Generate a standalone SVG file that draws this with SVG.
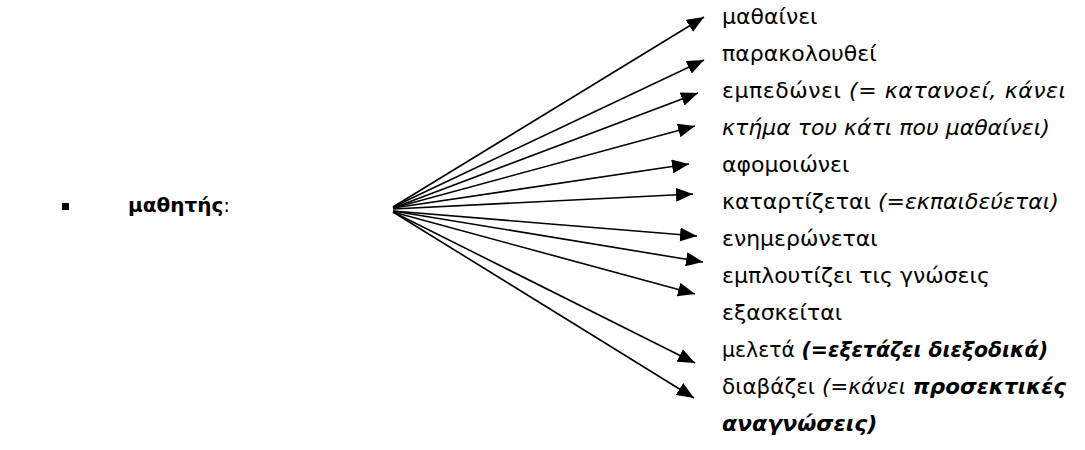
<svg xmlns="http://www.w3.org/2000/svg" width="1085" height="450" viewBox="0 0 1085 450">
<style>
text{font-family:"DejaVu Sans","Noto Sans",sans-serif;font-size:22px;fill:#000}
.lbl{font-size:20px}
.i{font-style:italic}
.b{font-weight:bold}
.con line{stroke:#000;stroke-width:1.6;fill:none}
</style>
<defs>
<marker id="ah" markerUnits="userSpaceOnUse" markerWidth="18" markerHeight="14" refX="17" refY="7" orient="auto">
<path d="M0,0 L17,7 L0,14 z" fill="#000"/>
</marker>
</defs>
<rect width="1085" height="450" fill="#fff"/>
<g id="source">
<rect x="62" y="203" width="7" height="7" fill="#000"/>
<text class="lbl" x="128" y="212"><tspan class="b">μαθητής</tspan>:</text>
</g>
<g id="connectors" class="con">
<line x1="393" y1="207" x2="704" y2="17" marker-end="url(#ah)"/>
<line x1="393" y1="207" x2="704" y2="60" marker-end="url(#ah)"/>
<line x1="393" y1="208" x2="698" y2="93" marker-end="url(#ah)"/>
<line x1="393" y1="208" x2="695" y2="126" marker-end="url(#ah)"/>
<line x1="393" y1="208" x2="689" y2="164" marker-end="url(#ah)"/>
<line x1="393" y1="209" x2="693" y2="194" marker-end="url(#ah)"/>
<line x1="393" y1="211" x2="697" y2="236" marker-end="url(#ah)"/>
<line x1="393" y1="211" x2="703" y2="262" marker-end="url(#ah)"/>
<line x1="393" y1="212" x2="695" y2="294" marker-end="url(#ah)"/>
<line x1="393" y1="212" x2="695" y2="363" marker-end="url(#ah)"/>
<line x1="393" y1="212" x2="694" y2="398" marker-end="url(#ah)"/>
</g>
<g id="t1"><text x="722" y="24">μαθαίνει</text></g>
<g id="t2"><text x="722" y="61">παρακολουθεί</text></g>
<g id="t3"><text x="722" y="98" textLength="344" lengthAdjust="spacing">εμπεδώνει <tspan class="i">(= κατανοεί, κάνει</tspan></text></g>
<g id="t4"><text x="722" y="135" class="i">κτήμα του κάτι που μαθαίνει)</text></g>
<g id="t5"><text x="722" y="172">αφομοιώνει</text></g>
<g id="t6"><text x="722" y="209">καταρτίζεται <tspan class="i">(=εκπαιδεύεται)</tspan></text></g>
<g id="t7"><text x="722" y="246">ενημερώνεται</text></g>
<g id="t8"><text x="722" y="283">εμπλουτίζει τις γνώσεις</text></g>
<g id="t9"><text x="722" y="320">εξασκείται</text></g>
<g id="t10"><text x="722" y="357" textLength="326" lengthAdjust="spacingAndGlyphs">μελετά <tspan class="i b">(=εξετάζει διεξοδικά)</tspan></text></g>
<g id="t11"><text x="722" y="394" textLength="344" lengthAdjust="spacingAndGlyphs">διαβάζει  <tspan class="i">(=κάνει</tspan>  <tspan class="i b">προσεκτικές</tspan></text></g>
<g id="t12"><text x="722" y="431" class="i b">αναγνώσεις)</text></g>
</svg>
